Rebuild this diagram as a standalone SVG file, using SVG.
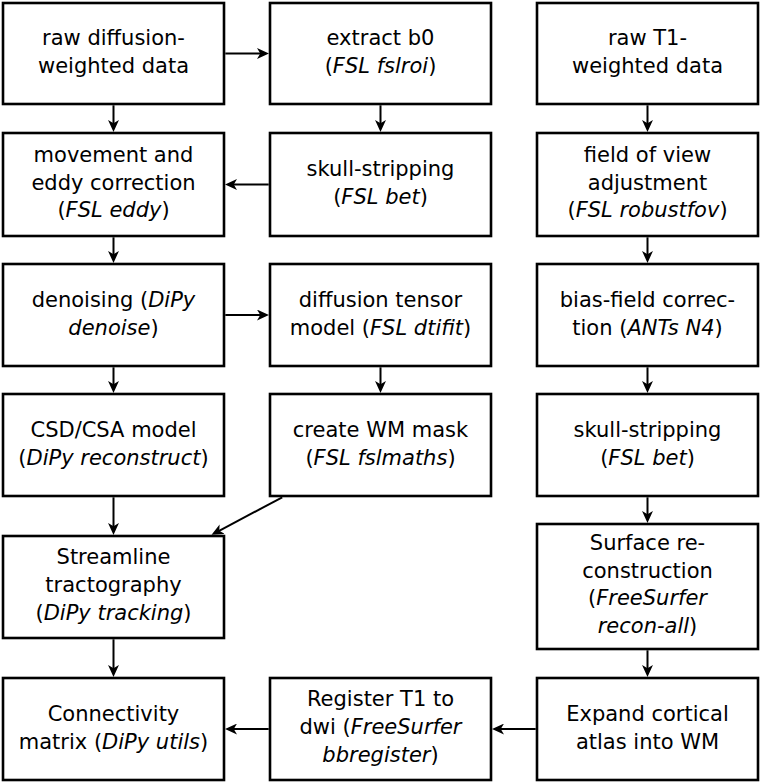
<svg xmlns="http://www.w3.org/2000/svg" width="761" height="783" viewBox="0 0 761 783">
<style>
.box rect{fill:#fff;stroke:#000;stroke-width:2.6}
.box text{font-family:"DejaVu Sans","Liberation Sans",sans-serif;font-size:21px;fill:#000;text-anchor:middle}
.it{font-style:italic}
.edges line{stroke:#000;stroke-width:2;marker-end:url(#ah)}
</style>
<defs>
<marker id="ah" markerUnits="userSpaceOnUse" markerWidth="12" markerHeight="11" viewBox="0 0 11 10" refX="8" refY="5" orient="auto">
<path d="M0,0 L11,5 L0,10 L3,5 Z" fill="#000"/>
</marker>
</defs>
<rect width="761" height="783" fill="#fff"/>
<g id="n-raw-dwi" class="box"><rect x="3" y="3" width="221" height="101"/><text x="113.5"><tspan x="113.5" y="45.3">raw diffusion-</tspan><tspan x="113.5" y="73">weighted data</tspan></text></g>
<g id="n-eddy" class="box"><rect x="3" y="133" width="221" height="103"/><text x="113.5"><tspan x="113.5" y="161.8">movement and</tspan><tspan x="113.5" y="189.5">eddy correction</tspan><tspan x="113.5" y="217.2">(<tspan class="it">FSL eddy</tspan>)</tspan></text></g>
<g id="n-denoise" class="box"><rect x="3" y="264" width="221" height="102"/><text x="113.5"><tspan x="113.5" y="306.8">denoising (<tspan class="it">DiPy</tspan></tspan><tspan x="113.5" y="334.5"><tspan class="it">denoise</tspan>)</tspan></text></g>
<g id="n-csd" class="box"><rect x="3" y="394" width="221" height="102"/><text x="113.5"><tspan x="113.5" y="436.8">CSD/CSA model</tspan><tspan x="113.5" y="464.5">(<tspan class="it">DiPy reconstruct</tspan>)</tspan></text></g>
<g id="n-stream" class="box"><rect x="3" y="536" width="221" height="102"/><text x="113.5"><tspan x="113.5" y="564.3">Streamline</tspan><tspan x="113.5" y="592">tractography</tspan><tspan x="113.5" y="619.7">(<tspan class="it">DiPy tracking</tspan>)</tspan></text></g>
<g id="n-conn" class="box"><rect x="3" y="678" width="221" height="102"/><text x="113.5"><tspan x="113.5" y="720.8">Connectivity</tspan><tspan x="113.5" y="748.5">matrix (<tspan class="it">DiPy utils</tspan>)</tspan></text></g>
<g id="n-b0" class="box"><rect x="270" y="3" width="221" height="101"/><text x="380.5"><tspan x="380.5" y="45.3">extract b0</tspan><tspan x="380.5" y="73">(<tspan class="it">FSL fslroi</tspan>)</tspan></text></g>
<g id="n-bet-dwi" class="box"><rect x="270" y="133" width="221" height="103"/><text x="380.5"><tspan x="380.5" y="176.3">skull-stripping</tspan><tspan x="380.5" y="204">(<tspan class="it">FSL bet</tspan>)</tspan></text></g>
<g id="n-dti" class="box"><rect x="270" y="264" width="221" height="102"/><text x="380.5"><tspan x="380.5" y="306.8">diffusion tensor</tspan><tspan x="380.5" y="334.5">model (<tspan class="it">FSL dtifit</tspan>)</tspan></text></g>
<g id="n-wm" class="box"><rect x="270" y="394" width="221" height="102"/><text x="380.5"><tspan x="380.5" y="436.8">create WM mask</tspan><tspan x="380.5" y="464.5">(<tspan class="it">FSL fslmaths</tspan>)</tspan></text></g>
<g id="n-reg" class="box"><rect x="270" y="678" width="221" height="102"/><text x="380.5"><tspan x="380.5" y="706.3">Register T1 to</tspan><tspan x="380.5" y="734">dwi (<tspan class="it">FreeSurfer</tspan></tspan><tspan x="380.5" y="761.7"><tspan class="it">bbregister</tspan>)</tspan></text></g>
<g id="n-raw-t1" class="box"><rect x="537" y="3" width="221" height="101"/><text x="647.5"><tspan x="647.5" y="45.3">raw T1-</tspan><tspan x="647.5" y="73">weighted data</tspan></text></g>
<g id="n-fov" class="box"><rect x="537" y="133" width="221" height="103"/><text x="647.5"><tspan x="647.5" y="161.8">field of view</tspan><tspan x="647.5" y="189.5">adjustment</tspan><tspan x="647.5" y="217.2">(<tspan class="it">FSL robustfov</tspan>)</tspan></text></g>
<g id="n-bias" class="box"><rect x="537" y="264" width="221" height="102"/><text x="647.5"><tspan x="647.5" y="306.8">bias-field correc-</tspan><tspan x="647.5" y="334.5">tion (<tspan class="it">ANTs N4</tspan>)</tspan></text></g>
<g id="n-bet-t1" class="box"><rect x="537" y="394" width="221" height="102"/><text x="647.5"><tspan x="647.5" y="436.8">skull-stripping</tspan><tspan x="647.5" y="464.5">(<tspan class="it">FSL bet</tspan>)</tspan></text></g>
<g id="n-surf" class="box"><rect x="537" y="524" width="221" height="125"/><text x="647.5"><tspan x="647.5" y="549.9">Surface re-</tspan><tspan x="647.5" y="577.6">construction</tspan><tspan x="647.5" y="605.3">(<tspan class="it">FreeSurfer</tspan></tspan><tspan x="647.5" y="633"><tspan class="it">recon-all</tspan>)</tspan></text></g>
<g id="n-expand" class="box"><rect x="537" y="678" width="221" height="102"/><text x="647.5"><tspan x="647.5" y="720.8">Expand cortical</tspan><tspan x="647.5" y="748.5">atlas into WM</tspan></text></g>
<g id="edges" class="edges">
<line x1="113.5" y1="105.3" x2="113.5" y2="128.7"/>
<line x1="113.5" y1="237.3" x2="113.5" y2="259.7"/>
<line x1="113.5" y1="367.3" x2="113.5" y2="389.7"/>
<line x1="113.5" y1="497.3" x2="113.5" y2="531.7"/>
<line x1="113.5" y1="639.3" x2="113.5" y2="673.7"/>
<line x1="380.5" y1="105.3" x2="380.5" y2="128.7"/>
<line x1="380.5" y1="367.3" x2="380.5" y2="389.7"/>
<line x1="647.5" y1="105.3" x2="647.5" y2="128.7"/>
<line x1="647.5" y1="237.3" x2="647.5" y2="259.7"/>
<line x1="647.5" y1="367.3" x2="647.5" y2="389.7"/>
<line x1="647.5" y1="497.3" x2="647.5" y2="519.7"/>
<line x1="647.5" y1="650.3" x2="647.5" y2="673.7"/>
<line x1="225.3" y1="53.5" x2="265.7" y2="53.5"/>
<line x1="268.7" y1="184.5" x2="228.3" y2="184.5"/>
<line x1="225.3" y1="315" x2="265.7" y2="315"/>
<line x1="535.7" y1="729" x2="495.3" y2="729"/>
<line x1="268.7" y1="729" x2="228.3" y2="729"/>
<line x1="282.2" y1="497.3" x2="214.45" y2="533.3"/>
</g>
</svg>
